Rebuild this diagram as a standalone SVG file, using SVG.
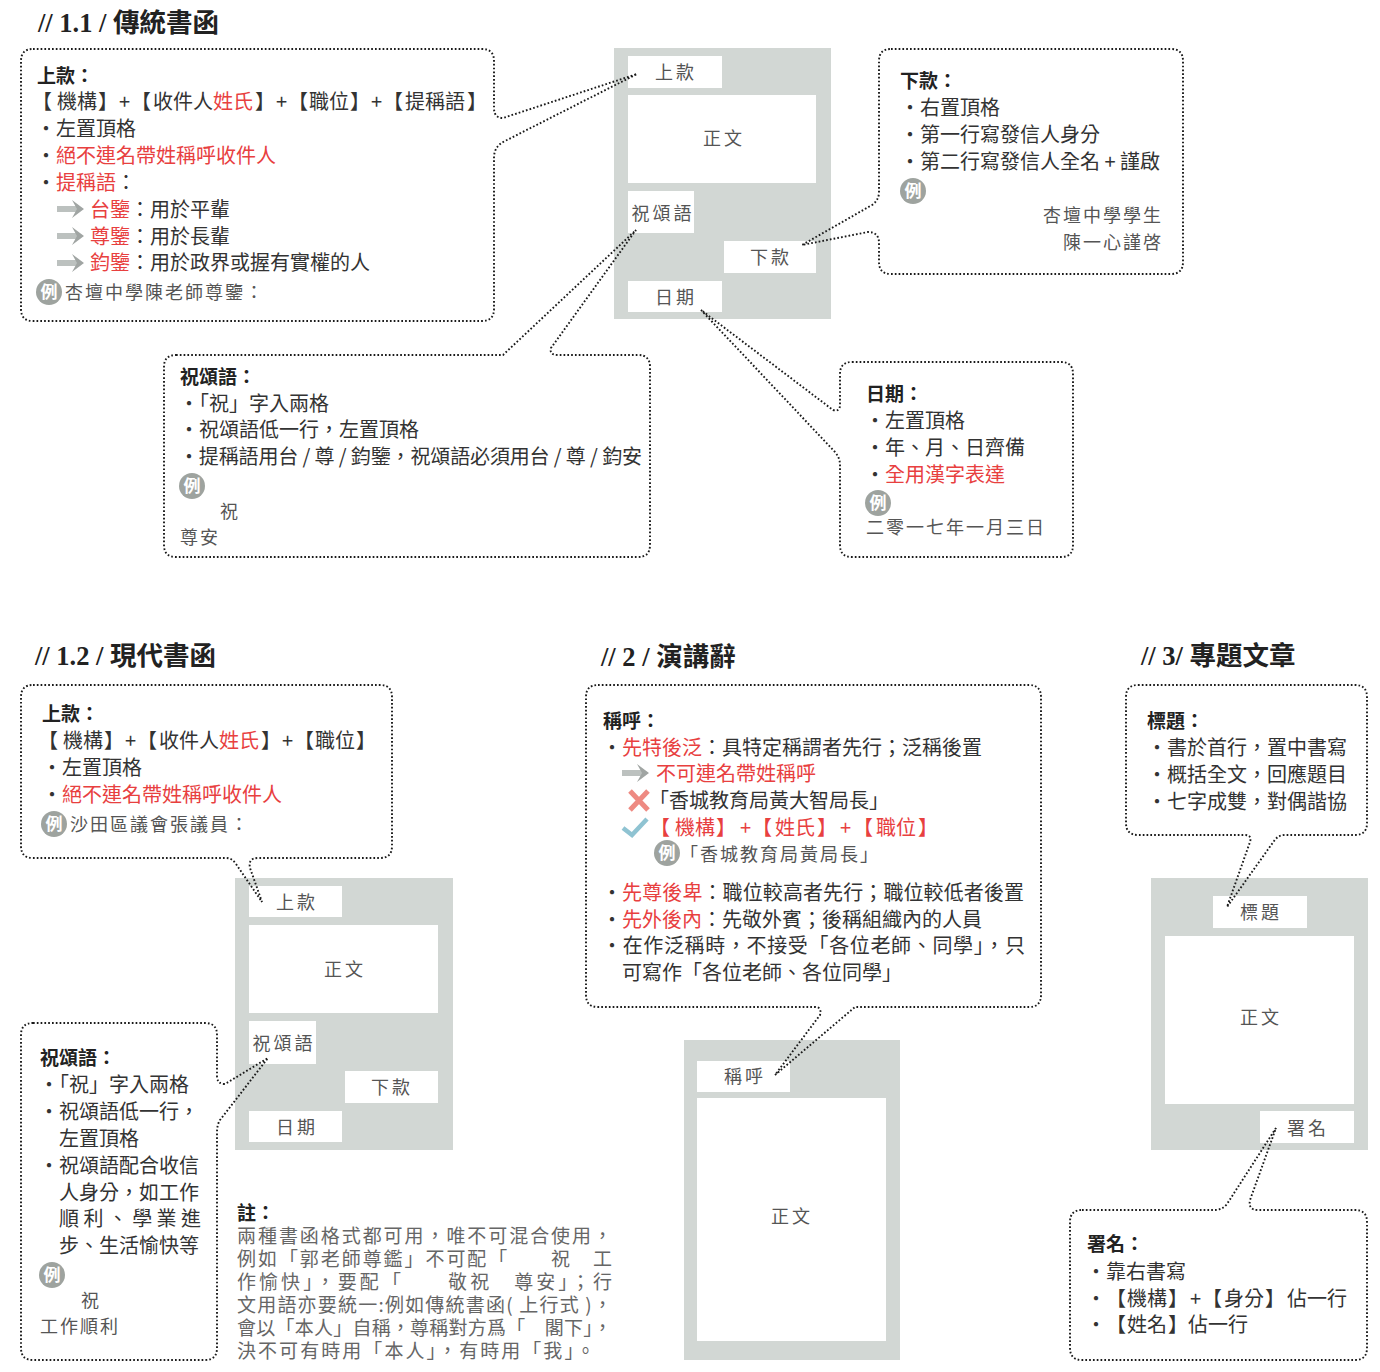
<svg xmlns="http://www.w3.org/2000/svg" width="1380" height="1372" viewBox="0 0 1380 1372">
<style>
text{font-family:"Noto Sans CJK TC","Liberation Sans",sans-serif;font-size:20px;fill:#333}
.t{font-family:"Liberation Serif","Noto Sans CJK TC",serif;font-size:26.5px;font-weight:700;fill:#222}
.h{font-size:19px;font-weight:700;fill:#222}
.r{fill:#e8403f}
.e{font-size:18px;fill:#555;letter-spacing:2px}
.n{font-size:19px;fill:#666}
.l{font-size:18px;fill:#555;letter-spacing:3px;text-anchor:middle}
.b{font-size:17px;font-weight:700;fill:#fff;text-anchor:middle}
.pan{fill:#d2d7d4}
.w{fill:#fff}
.bub{fill:none;stroke:#1a1a1a;stroke-width:1.9;stroke-dasharray:1.7 2.1}
.bc{fill:#9ea39f}
.ar{fill:none;stroke:#bcc1bf;stroke-width:6}
.ah{fill:#a0a5a3}
</style>
<defs>
<g id="ex"><circle r="13" class="bc"/><text y="6" class="b">例</text></g>
<g id="arr"><path d="M0,0H20" class="ar"/><path d="M15,-9L27,0L15,9L20,0Z" class="ah"/></g>
</defs>

<g id="titles">
<text x="38" y="32" class="t">// 1.1 / 傳統書函</text>
<text x="35" y="665" class="t">// 1.2 / 現代書函</text>
<text x="601" y="666" class="t">// 2 / 演講辭</text>
<text x="1141" y="665" class="t">// 3/ 專題文章</text>
</g>

<g id="panel-1-1">
<rect x="614" y="48" width="217" height="271" class="pan"/>
<rect x="628" y="56" width="94" height="32" class="w"/>
<rect x="628" y="95" width="188" height="88" class="w"/>
<rect x="628" y="191" width="66" height="42" class="w"/>
<rect x="724" y="241" width="92" height="32" class="w"/>
<rect x="628" y="281" width="94" height="31" class="w"/>
<text x="676" y="79" class="l">上款</text>
<text x="724" y="145" class="l">正文</text>
<text x="663" y="220" class="l">祝頌語</text>
<text x="771" y="264" class="l">下款</text>
<text x="676" y="304" class="l">日期</text>
</g>
<g id="panel-1-2">
<rect x="235" y="878" width="218" height="272" class="pan"/>
<rect x="249" y="886" width="93" height="31" class="w"/>
<rect x="249" y="925" width="189" height="88" class="w"/>
<rect x="249" y="1021" width="67" height="43" class="w"/>
<rect x="345" y="1071" width="93" height="32" class="w"/>
<rect x="249" y="1111" width="93" height="31" class="w"/>
<text x="297" y="909" class="l">上款</text>
<text x="345" y="976" class="l">正文</text>
<text x="284" y="1050" class="l">祝頌語</text>
<text x="392" y="1094" class="l">下款</text>
<text x="297" y="1134" class="l">日期</text>
</g>
<g id="panel-2">
<rect x="684" y="1040" width="216" height="320" class="pan"/>
<rect x="697" y="1061" width="93" height="31" class="w"/>
<rect x="697" y="1098" width="189" height="243" class="w"/>
<text x="745" y="1083" class="l">稱呼</text>
<text x="792" y="1223" class="l">正文</text>
</g>
<g id="panel-3">
<rect x="1151" y="878" width="217" height="272" class="pan"/>
<rect x="1213" y="896" width="94" height="32" class="w"/>
<rect x="1165" y="936" width="189" height="168" class="w"/>
<rect x="1260" y="1111" width="94" height="32" class="w"/>
<text x="1261" y="919" class="l">標題</text>
<text x="1261" y="1024" class="l">正文</text>
<text x="1308" y="1135" class="l">署名</text>
</g>

<g id="connectors">
<path class="bub" d="M33,49H482Q494,49 494,61V108Q494,118 503,118L637,74L505,141Q494,146 494,158V309Q494,321 482,321H33Q21,321 21,309V61Q21,49 33,49Z"/>
<path class="bub" d="M891,49H1171Q1183,49 1183,61V262Q1183,274 1171,274H891Q879,274 879,262V243Q879,232 868,232L802,245L872,205Q879,200 879,192V61Q879,49 891,49Z"/>
<path class="bub" d="M176,355H503L636,230L551,348Q549,355 558,355H638Q650,355 650,367V545Q650,557 638,557H176Q164,557 164,545V367Q164,355 176,355Z"/>
<path class="bub" d="M852,362H1061Q1073,362 1073,374V545Q1073,557 1061,557H852Q840,557 840,545V465Q840,458 835,452L701,310L833,410Q840,412 840,405V374Q840,362 852,362Z"/>
<path class="bub" d="M33,685H380Q392,685 392,697V846Q392,858 380,858H258Q248,858 250,868L262,902L236,864Q232,858 226,858H33Q21,858 21,846V697Q21,685 33,685Z"/>
<path class="bub" d="M33,1023H205Q217,1023 217,1035V1076Q217,1084 225,1084L268,1058L220,1120Q217,1125 217,1132V1348Q217,1360 205,1360H33Q21,1360 21,1348V1035Q21,1023 33,1023Z"/>
<path class="bub" d="M598,685H1029Q1041,685 1041,697V995Q1041,1007 1029,1007H855L775,1075L820,1015Q822,1007 815,1007H598Q586,1007 586,995V697Q586,685 598,685Z"/>
<path class="bub" d="M1138,685H1355Q1367,685 1367,697V823Q1367,835 1355,835H1285Q1278,835 1274,841L1227,907L1250,842Q1252,835 1245,835H1138Q1126,835 1126,823V697Q1126,685 1138,685Z"/>
<path class="bub" d="M1082,1210H1215Q1222,1210 1227,1204L1276,1128L1250,1200Q1248,1210 1258,1210H1355Q1367,1210 1367,1222V1348Q1367,1360 1355,1360H1082Q1070,1360 1070,1348V1222Q1070,1210 1082,1210Z"/>
</g>

<g id="box-shangkuan-1">
<text x="37" y="83" class="h">上款：</text>
<text y="109"><tspan x="32">【</tspan><tspan x="57">機構</tspan><tspan x="98">】</tspan><tspan x="119">+</tspan><tspan x="131">【</tspan><tspan x="153">收件人</tspan><tspan class="r">姓氏</tspan><tspan x="255">】</tspan><tspan x="276">+</tspan><tspan x="288">【</tspan><tspan x="309">職位</tspan><tspan x="350">】</tspan><tspan x="371">+</tspan><tspan x="383">【</tspan><tspan x="405">提稱語</tspan><tspan x="467">】</tspan></text>
<text x="36" y="136">・左置頂格</text>
<text x="36" y="163">・<tspan class="r">絕不連名帶姓稱呼收件人</tspan></text>
<text x="36" y="190">・<tspan class="r">提稱語</tspan>：</text>
<use href="#arr" x="57" y="209"/><text x="90" y="217"><tspan class="r">台鑒</tspan>：用於平輩</text>
<use href="#arr" x="57" y="236"/><text x="90" y="244"><tspan class="r">尊鑒</tspan>：用於長輩</text>
<use href="#arr" x="57" y="263"/><text x="90" y="270"><tspan class="r">鈞鑒</tspan>：用於政界或握有實權的人</text>
<use href="#ex" x="49" y="292"/><text x="65" y="299" class="e">杏壇中學陳老師尊鑒：</text>
</g>

<g id="box-xiakuan">
<text x="900" y="88" class="h">下款：</text>
<text x="900" y="115">・右置頂格</text>
<text x="900" y="142">・第一行寫發信人身分</text>
<text x="900" y="169">・第二行寫發信人全名 + 謹啟</text>
<use href="#ex" x="913" y="191"/>
<text x="1163" y="222" class="e" text-anchor="end">杏壇中學學生</text>
<text x="1163" y="249" class="e" text-anchor="end">陳一心謹啓</text>
</g>

<g id="box-zhusong-1">
<text x="180" y="384" class="h">祝頌語：</text>
<text x="179" y="411">・「祝」字入兩格</text>
<text x="179" y="437">・祝頌語低一行，左置頂格</text>
<text x="179" y="464" textLength="463" lengthAdjust="spacing">・提稱語用台 / 尊 / 鈞鑒，祝頌語必須用台 / 尊 / 鈞安</text>
<use href="#ex" x="192" y="486"/>
<text x="220" y="518" class="e">祝</text>
<text x="180" y="544" class="e">尊安</text>
</g>

<g id="box-riqi">
<text x="866" y="401" class="h">日期：</text>
<text x="865" y="428">・左置頂格</text>
<text x="865" y="455">・年、月、日齊備</text>
<text x="865" y="482">・<tspan class="r">全用漢字表達</tspan></text>
<use href="#ex" x="878" y="503"/>
<text x="866" y="534" class="e">二零一七年一月三日</text>
</g>

<g id="box-shangkuan-2">
<text x="42" y="721" class="h">上款：</text>
<text y="748"><tspan x="38">【</tspan><tspan x="63">機構</tspan><tspan x="104">】</tspan><tspan x="125">+</tspan><tspan x="137">【</tspan><tspan x="159">收件人</tspan><tspan class="r">姓氏</tspan><tspan x="261">】</tspan><tspan x="282">+</tspan><tspan x="294">【</tspan><tspan x="315">職位</tspan><tspan x="356">】</tspan></text>
<text x="42" y="775">・左置頂格</text>
<text x="42" y="802">・<tspan class="r">絕不連名帶姓稱呼收件人</tspan></text>
<use href="#ex" x="54" y="824"/><text x="70" y="831" class="e">沙田區議會張議員：</text>
</g>

<g id="box-zhusong-2">
<text x="40" y="1065" class="h">祝頌語：</text>
<text x="39" y="1092">・「祝」字入兩格</text>
<text x="39" y="1119">・祝頌語低一行，</text>
<text x="59" y="1146">左置頂格</text>
<text x="39" y="1173">・祝頌語配合收信</text>
<text x="59" y="1200">人身分，如工作</text>
<text x="59" y="1226" textLength="142" lengthAdjust="spacing">順利、學業進</text>
<text x="59" y="1253">步、生活愉快等</text>
<use href="#ex" x="52" y="1275"/>
<text x="81" y="1307" class="e">祝</text>
<text x="40" y="1333" class="e">工作順利</text>
</g>

<g id="note">
<text x="237" y="1220" class="h">註：</text>
<text x="237" y="1243" class="n" textLength="375" lengthAdjust="spacing">兩種書函格式都可用，唯不可混合使用，</text>
<text x="237" y="1266" class="n" textLength="375" lengthAdjust="spacing">例如「郭老師尊鑑」不可配「　　祝　工</text>
<text x="237" y="1289" class="n" textLength="375" lengthAdjust="spacing">作愉快」，要配「　　敬祝　尊安」；行</text>
<text x="237" y="1312" class="n" textLength="375" lengthAdjust="spacing">文用語亦要統一:例如傳統書函( 上行式 )，</text>
<text x="237" y="1335" class="n" textLength="375" lengthAdjust="spacing">會以「本人」自稱，尊稱對方爲「　閣下」，</text>
<text x="237" y="1358" class="n" textLength="358" lengthAdjust="spacing">決不可有時用「本人」，有時用「我」。</text>
</g>

<g id="box-chenghu">
<text x="603" y="728" class="h">稱呼：</text>
<text x="602" y="755">・<tspan class="r">先特後泛</tspan>：具特定稱謂者先行；泛稱後置</text>
<use href="#arr" x="622" y="773"/><text x="656" y="781" class="r">不可連名帶姓稱呼</text>
<path d="M630,791L648,810M648,791L630,810" fill="none" stroke="#ee8a82" stroke-width="5"/>
<text x="649" y="808" fill="#444">「香城教育局黃大智局長」</text>
<path d="M623,828L632,835L647,819" fill="none" stroke="#8fc3d2" stroke-width="4.5"/>
<text y="835" class="r"><tspan x="650">【</tspan><tspan x="675">機構</tspan><tspan x="716">】</tspan><tspan x="740">+</tspan><tspan x="752">【</tspan><tspan x="775">姓氏</tspan><tspan x="817">】</tspan><tspan x="840">+</tspan><tspan x="853">【</tspan><tspan x="876">職位</tspan><tspan x="918">】</tspan></text>
<use href="#ex" x="667" y="853"/><text x="680" y="861" class="e">「香城教育局黃局長」</text>
<text x="602" y="900" textLength="422" lengthAdjust="spacing">・<tspan class="r">先尊後卑</tspan>：職位較高者先行；職位較低者後置</text>
<text x="602" y="927">・<tspan class="r">先外後內</tspan>：先敬外賓；後稱組織內的人員</text>
<text x="602" y="953" textLength="423" lengthAdjust="spacing">・在作泛稱時，不接受「各位老師、同學」，只</text>
<text x="622" y="980">可寫作「各位老師、各位同學」</text>
</g>

<g id="box-biaoti">
<text x="1147" y="728" class="h">標題：</text>
<text x="1147" y="755">・書於首行，置中書寫</text>
<text x="1147" y="782">・概括全文，回應題目</text>
<text x="1147" y="809">・七字成雙，對偶諧協</text>
</g>

<g id="box-shuming">
<text x="1087" y="1251" class="h">署名：</text>
<text x="1086" y="1279">・靠右書寫</text>
<text y="1306"><tspan x="1086">・</tspan><tspan x="1106">【</tspan><tspan x="1127">機構</tspan><tspan x="1168">】</tspan><tspan x="1190">+</tspan><tspan x="1202">【</tspan><tspan x="1224">身分</tspan><tspan x="1265">】</tspan><tspan x="1287">佔一行</tspan></text>
<text y="1332"><tspan x="1086">・</tspan><tspan x="1106">【</tspan><tspan x="1127">姓名</tspan><tspan x="1168">】</tspan><tspan x="1188">佔一行</tspan></text>
</g>
</svg>
